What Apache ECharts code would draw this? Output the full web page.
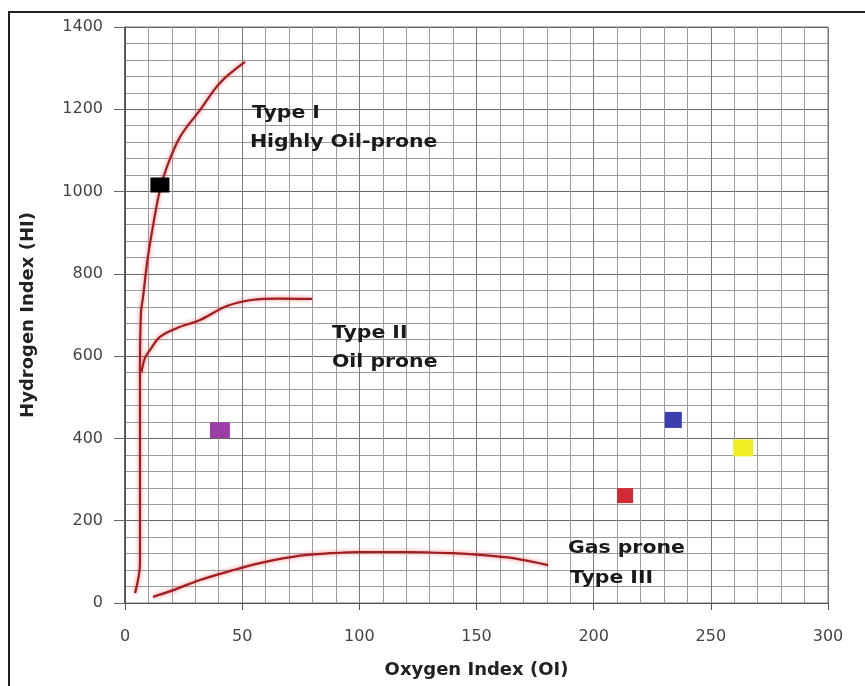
<!DOCTYPE html>
<html>
<head>
<meta charset="utf-8">
<script src="https://cdn.jsdelivr.net/npm/echarts@6.0.0/dist/echarts.min.js"></script>
<style>
html,body{margin:0;padding:0;background:#fff;}
#chart{width:865px;height:686px;}
</style>
</head>
<body>
<div id="chart"></div>
<script>
// ---- Data ----
var xTicks = [0, 50, 100, 150, 200, 250, 300];
var yTicks = [0, 200, 400, 600, 800, 1000, 1200, 1400];

// Kerogen type boundary curves [OI, HI]
var typeI = [[4.3,24],[6.4,97],[6.4,300],[6.4,566],[6.8,705],[7.7,744],[9.5,830],[11.5,902],[14.9,1004],[17.9,1060],[23.5,1133],[32,1198],[40.5,1264],[51.2,1315]];
var typeII = [[7.0,561],[8.5,595],[10.7,615],[14.9,647],[22,668],[32,688],[43.5,722],[54.6,737],[65,740],[79.8,739]];
var typeIII = [[12,15],[20,30],[32,56],[45,78],[57.6,97],[74.7,115],[87.5,121],[100,124],[120,124],[140,121],[151.5,117],[165.6,109],[180.5,92]];

// Samples
var sampleOI = [14.9, 40.5, 234, 263.8, 213.4];
var sampleHI = [1016, 420, 445, 377, 261];
var sampleColors = ['#000000', '#9a3fa6', '#3b3fae', '#eeee22', '#d22a33'];
var sampleSizes = [[19,15],[20,16],[17,16],[20,17],[16,15]];

var chart = echarts.init(document.getElementById('chart'));

var curveStyle = {
  color: '#9e1e22',
  width: 2.2,
  shadowColor: 'rgba(235,70,70,0.75)',
  shadowBlur: 4
};

function curve(name, data) {
  return {
    name: name, type: 'line', data: data, smooth: 0.35, symbol: 'none',
    lineStyle: curveStyle, z: 3, silent: true
  };
}

var sampleSeries = sampleOI.map(function (x, i) {
  return {
    type: 'scatter', symbol: 'rect', symbolSize: sampleSizes[i],
    data: [[x, sampleHI[i]]],
    itemStyle: { color: sampleColors[i], opacity: 1 }, z: 5
  };
});

var labelFont = 'bold 17px "DejaVu Sans"';
function txt(x, y, s) {
  return { type: 'text', x: x, y: y, scaleX: 1.2, z: 10,
    style: { text: s, font: labelFont, fill: '#1a1a1a', verticalAlign: 'middle' } };
}

function plain(v) { return String(v); }

chart.setOption({
  animation: false,
  backgroundColor: '#ffffff',
  grid: { left: 125, top: 27, right: 37, bottom: 83, show: true, borderColor: '#777', borderWidth: 1 },
  xAxis: {
    type: 'value', min: xTicks[0], max: xTicks[xTicks.length-1], interval: 50,
    name: 'Oxygen Index (OI)', nameLocation: 'middle', nameGap: 58,
    nameTextStyle: { fontFamily: 'DejaVu Sans', fontWeight: 'bold', fontSize: 18, color: '#222' },
    axisLine: { show: true, lineStyle: { color: '#555', width: 1 } },
    axisTick: { show: true, length: 7, lineStyle: { color: '#555' } },
    axisLabel: { margin: 26, fontFamily: 'DejaVu Sans', fontSize: 16, color: '#444', formatter: plain },
    splitLine: { show: true, lineStyle: { color: '#7a7a7a', width: 1 } },
    minorTick: { show: false, splitNumber: 5 },
    minorSplitLine: { show: true, lineStyle: { color: '#9c9c9c', width: 1 } }
  },
  yAxis: {
    type: 'value', min: yTicks[0], max: yTicks[yTicks.length-1], interval: 200,
    name: 'Hydrogen Index (HI)', nameLocation: 'middle', nameGap: 88,
    nameTextStyle: { fontFamily: 'DejaVu Sans', fontWeight: 'bold', fontSize: 18, color: '#222' },
    axisLine: { show: true, lineStyle: { color: '#444', width: 1.5 } },
    axisTick: { show: true, length: 11, lineStyle: { color: '#666' } },
    axisLabel: { margin: 22, fontFamily: 'DejaVu Sans', fontSize: 16, color: '#444', formatter: plain },
    splitLine: { show: true, lineStyle: { color: '#666', width: 1.2 } },
    minorTick: { show: false, splitNumber: 5 },
    minorSplitLine: { show: true, lineStyle: { color: '#9c9c9c', width: 1 } }
  },
  series: [curve('Type I', typeI), curve('Type II', typeII), curve('Type III', typeIII)].concat(sampleSeries),
  graphic: [
    { type: 'rect', shape: { x: 9, y: 12, width: 900, height: 720 }, style: { fill: 'none', stroke: '#222', lineWidth: 2 }, z: 0, silent: true },
    txt(252, 114, 'Type I'),
    txt(250, 143, 'Highly Oil-prone'),
    txt(332, 334, 'Type II'),
    txt(332, 363, 'Oil prone'),
    txt(568, 549, 'Gas prone'),
    txt(570, 579, 'Type III')
  ]
});
</script>
</body>
</html>
